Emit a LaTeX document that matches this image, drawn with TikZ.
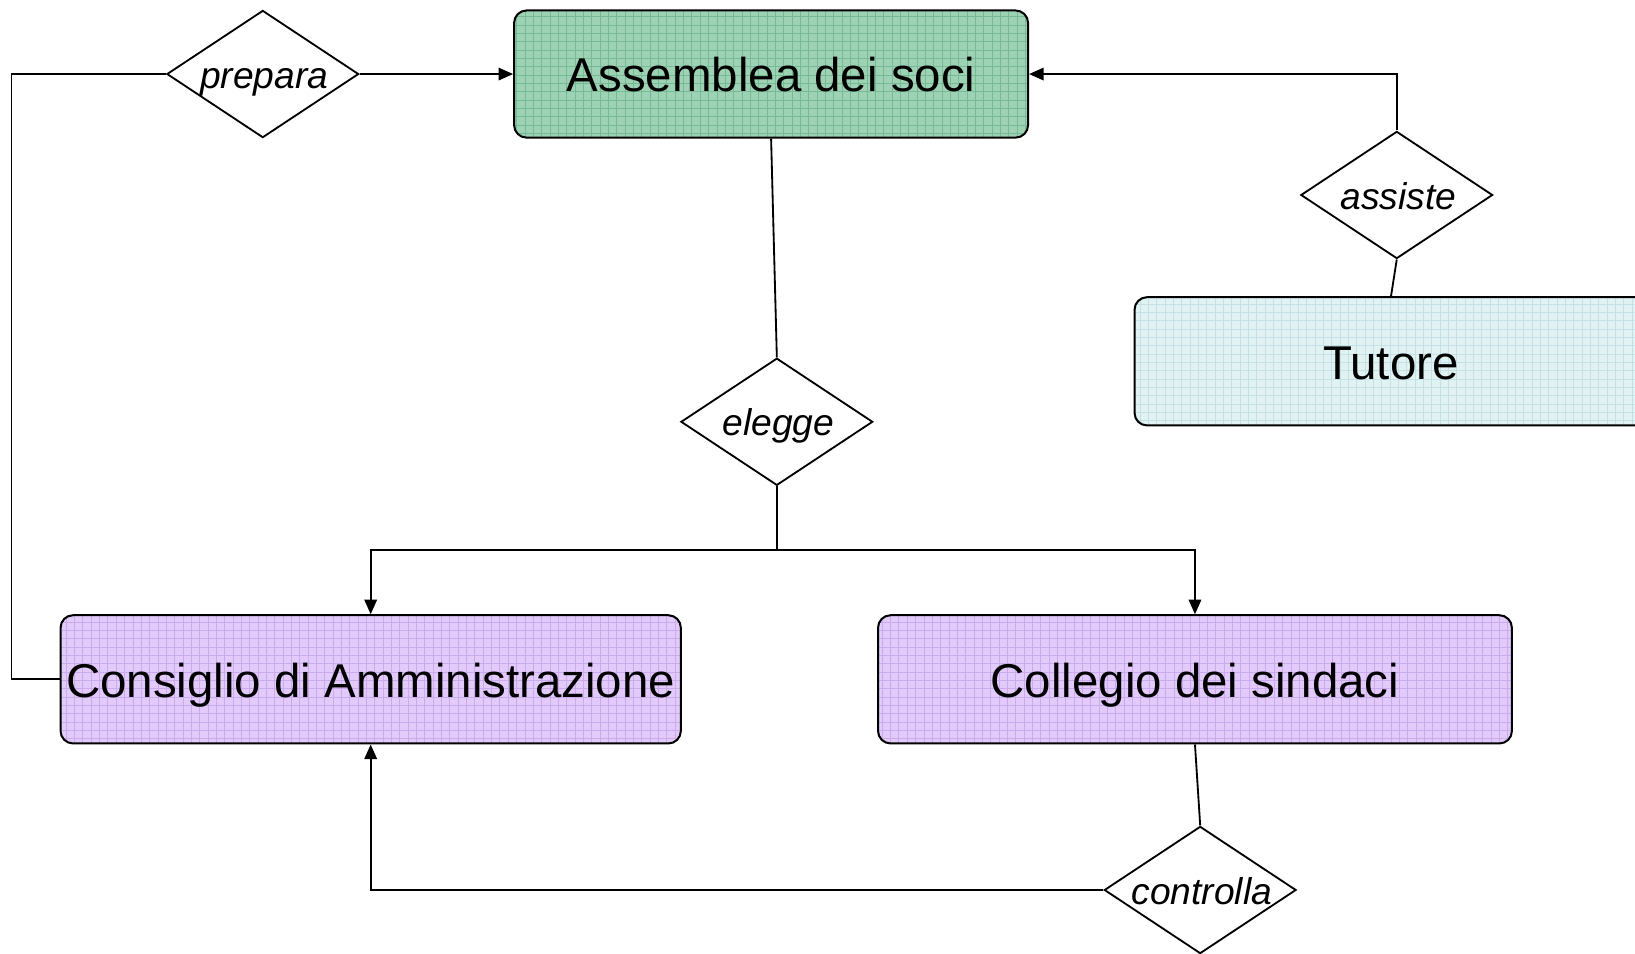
\documentclass[tikz,border=0pt]{standalone}
\usepackage{fontspec}
\setmainfont{Liberation Sans}
\usetikzlibrary{shapes.geometric,arrows.meta}
\definecolor{assgreen}{RGB}{158,210,180}
\definecolor{assgrid}{RGB}{120,185,150}
\definecolor{tutcyan}{RGB}{224,242,242}
\definecolor{tutgrid}{RGB}{196,226,230}
\definecolor{lav}{RGB}{226,202,250}
\definecolor{lavgrid}{RGB}{202,172,238}
\begin{document}
\begin{tikzpicture}[x=0.02cm,y=-0.02cm,
  entity/.style={draw=black, line width=1.1pt, rounded corners=0.24cm, inner sep=0pt,
    font=\fontsize{25.9}{31}\selectfont, text height=0.68cm, text depth=0pt,
    path picture={\draw[#1, line width=0.35pt, step=0.16cm] (path picture bounding box.south west) grid (path picture bounding box.north east);}},
  rel/.style={draw=black, line width=1pt, diamond, minimum width=3.68cm, minimum height=2.44cm, inner sep=0pt},
  rlabel/.style={font=\fontsize{20.3}{24}\selectfont\itshape, inner sep=0pt, text height=0.54cm, text depth=0pt, xshift=0.03cm},
  conn/.style={line width=1pt},
  arr/.style={conn,-{Triangle[length=0.28cm,width=0.24cm]}}]
\useasboundingbox (0,0) rectangle (1568,914);
\fill[white] (0,0) rectangle (1568,914);

\node[entity=assgrid, fill=assgreen, minimum width=9.86cm, minimum height=2.44cm] (ass) at (739.5,71) {Assemblea dei soci};
\node[entity=tutgrid, fill=tutcyan, minimum width=9.84cm, minimum height=2.46cm] (tut) at (1334,346.5) {Tutore};
\node[entity=lavgrid, fill=lav, minimum width=11.9cm, minimum height=2.46cm] (cda) at (355.5,651.5) {Consiglio di Amministrazione};
\node[entity=lavgrid, fill=lav, minimum width=12.16cm, minimum height=2.46cm] (col) at (1146,651.5) {Collegio dei sindaci};

\node[rel, label={[rlabel]center:prepara}] (prep) at (252,71) {};
\node[rel, label={[rlabel]center:assiste}] (asst) at (1339.5,187) {};
\node[rel, label={[rlabel]center:elegge}] (ele) at (745,404.5) {};
\node[rel, label={[rlabel]center:controlla}] (ctrl) at (1151,853.5) {};

\draw[conn] (cda.west) -- ++(-46,0) |- (prep.west);
\draw[arr] (prep.east) -- (ass.west);
\draw[conn] (ass.south) -- (ele.north);
\draw[arr] (ele.south) -- ++(0,61) -| (cda.north);
\draw[arr] (ele.south) -- ++(0,61) -| (col.north);
\draw[conn] (tut.north) -- (asst.south);
\draw[arr] (asst.north) |- (ass.east);
\draw[conn] (col.south) -- (ctrl.north);
\draw[arr] (ctrl.west) -| (cda.south);
\end{tikzpicture}
\end{document}
